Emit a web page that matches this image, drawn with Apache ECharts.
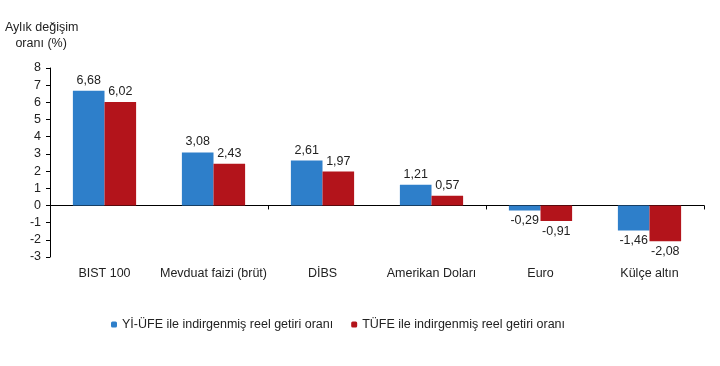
<!DOCTYPE html>
<html><head><meta charset="utf-8">
<script src="https://cdn.jsdelivr.net/npm/echarts@6/dist/echarts.min.js"></script>
<style>html,body{margin:0;padding:0;background:#fff}#c{width:720px;height:366px}</style>
</head><body><div id="c"></div>
<script>
var categories = ['BIST 100', 'Mevduat faizi (brüt)', 'DİBS', 'Amerikan Doları', 'Euro', 'Külçe altın'];
var seriesNames = ['Yİ-ÜFE ile indirgenmiş reel getiri oranı', 'TÜFE ile indirgenmiş reel getiri oranı'];
var yiUfe = [6.68, 3.08, 2.61, 1.21, -0.29, -1.46];
var tufe = [6.02, 2.43, 1.97, 0.57, -0.91, -2.08];

var font = 'Liberation Sans, Arial, sans-serif';
function fmt(v){ return v.toFixed(2).replace('.', ','); }
function toData(arr){
  return arr.map(function(v){
    return { value: v, label: { position: v < 0 ? 'bottom' : 'top' } };
  });
}
var chart = echarts.init(document.getElementById('c'));
chart.setOption({
  animation: false,
  textStyle: { fontFamily: font },
  graphic: [{
    type: 'text', left: 5, top: 20,
    style: { text: 'Aylık değişim\n   oranı (%)', font: '12.5px ' + font, fill: '#222', lineHeight: 16 }
  }],
  legend: {
    bottom: 30, left: 106,
    itemWidth: 6, itemHeight: 6, itemGap: 18,
    textStyle: { fontSize: 12.5, color: '#222', fontFamily: font },
    data: seriesNames
  },
  grid: { left: 50, right: 16, top: 68, bottom: 109 },
  xAxis: [{
    type: 'category', data: categories,
    axisLine: { onZero: true, lineStyle: { color: '#000', width: 1 } },
    axisTick: { show: true, length: 4, inside: false, lineStyle: { color: '#000' } },
    axisLabel: { show: false }
  }, {
    type: 'category', data: categories, position: 'bottom',
    axisLine: { show: false }, axisTick: { show: false },
    axisLabel: { interval: 0, fontSize: 12.5, color: '#222', margin: 10, fontFamily: font }
  }],
  yAxis: {
    type: 'value', min: -3, max: 8, interval: 1,
    splitLine: { show: false },
    axisLine: { show: true, lineStyle: { color: '#000' } },
    axisTick: { show: true, length: 4, lineStyle: { color: '#000' } },
    axisLabel: { fontSize: 12.5, color: '#222', margin: 9, fontFamily: font }
  },
  series: [{
    name: seriesNames[0], type: 'bar', xAxisIndex: 0,
    data: toData(yiUfe), barGap: '0%', barCategoryGap: '42%',
    itemStyle: { color: '#2e7fca' },
    label: { show: true, fontSize: 12.5, color: '#222', distance: 4, formatter: function(p){ return fmt(p.value); } }
  }, {
    name: seriesNames[1], type: 'bar', xAxisIndex: 0,
    data: toData(tufe), barGap: '0%', barCategoryGap: '42%',
    itemStyle: { color: '#b3141b' },
    label: { show: true, fontSize: 12.5, color: '#222', distance: 4, formatter: function(p){ return fmt(p.value); } }
  }]
});
</script></body></html>
